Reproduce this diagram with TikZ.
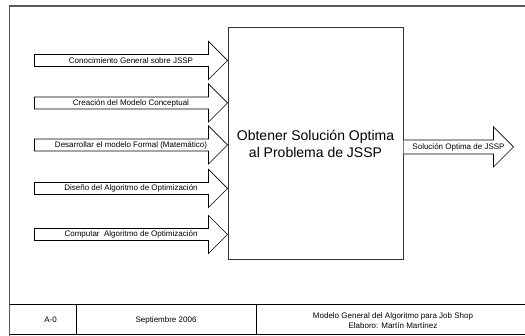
\documentclass[tikz,border=0pt]{standalone}
\usepackage{fontspec}
\setmainfont{Liberation Sans}
\begin{document}
\begin{tikzpicture}[x=1pt,y=-1pt,
  frame/.style={draw=black!65, line width=1.4pt},
  rule/.style={draw=black, line width=0.8pt},
  blockarrow/.style={draw=black, line width=0.7pt, fill=white, line join=miter},
  lbl/.style={font=\fontsize{8}{10}\selectfont, inner sep=0pt},
  activity/.style={draw=black!80, line width=1pt, minimum width=175pt,
    minimum height=232pt, align=center, font=\fontsize{14}{16.5}\selectfont}]
\useasboundingbox (0,0) rectangle (525,336);

% outer sheet frame and title block
\draw[frame] (525,6) -- (9.5,6) -- (9.5,336);
\draw[rule] (9.5,304) -- (525,304);
\draw[rule] (9.5,334) -- (525,334);
\draw[rule] (76,304) -- (76,334);
\draw[rule] (256,304) -- (256,334);
\node[lbl] (num) at (50.5,320) {A-0};
\node[lbl] (date) at (166,320.5) {Septiembre 2006};
\node[lbl, align=center] (title) at (393,320.5)
  {Modelo General del Algoritmo para Job Shop\\Elaboro: Martín Martínez};

% activity box
\node[activity] (box) at (315.5,144) {Obtener Solución Optima\\al Problema de JSSP};

% input block arrows: name, centre line, label
\newcommand\idefinput[3]{%
  \coordinate (#1tip) at (box.west |- 0,#2);
  \draw[blockarrow] (#1tip) -- ++(-19,-19) -- ++(0,13) -- ++(-174,0)
    -- ++(0,12) -- ++(174,0) -- ++(0,13) -- cycle;
  \node[lbl] (#1) at ([xshift=-96.5pt]#1tip) {#3};
}
\idefinput{inA}{60.5}{Conocimiento General sobre JSSP}
\idefinput{inB}{103}{Creación del Modelo Conceptual}
\idefinput{inC}{145}{Desarrollar el modelo Formal (Matemático)}
\idefinput{inD}{188.5}{Diseño del Algoritmo de Optimización}
\idefinput{inE}{234.5}{Computar~ Algoritmo de Optimización}

% output block arrow
\coordinate (otail) at (box.east |- 0,147);
\draw[blockarrow] (otail) ++(0,-7) -- ++(90,0) -- ++(0,-13) -- ++(20,20)
  -- ++(-20,20) -- ++(0,-13) -- ++(-90,0);
\node[lbl] (out) at ([xshift=55pt]otail) {Solución Optima de JSSP};
\end{tikzpicture}
\end{document}
